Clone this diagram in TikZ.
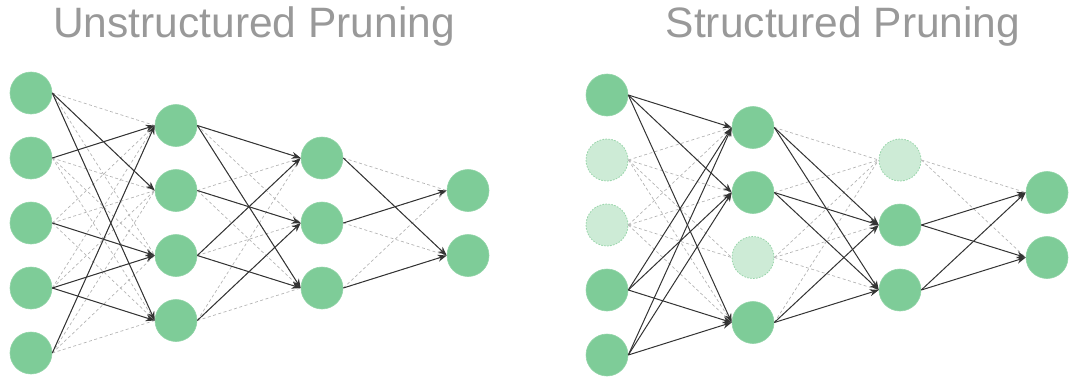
\documentclass[tikz,border=0pt]{standalone}
\usepackage{fontspec}
\setmainfont{Liberation Sans}
\usetikzlibrary{arrows.meta}
\definecolor{nodegreen}{RGB}{126, 204, 152}
\definecolor{prunedfill}{RGB}{205, 235, 214}
\definecolor{prunedline}{RGB}{150, 212, 168}
\definecolor{titlegray}{RGB}{153, 153, 153}
\definecolor{cutgray}{RGB}{180, 180, 180}

\begin{document}
\begin{tikzpicture}[x=1pt, y=-1pt,
  neuron/.style={circle, fill=nodegreen, draw=nodegreen!85!white, line width=0.6pt, minimum size=42pt, inner sep=0pt},
  pruned/.style={circle, fill=prunedfill, draw=prunedline, dash pattern=on 1.5pt off 1.5pt, line width=0.8pt, minimum size=42pt, inner sep=0pt},
  kept/.style={-{Stealth[length=9pt, width=7pt]}, line width=1pt, black!80},
  dropped/.style={line width=0.7pt, cutgray, dash pattern=on 3pt off 2.5pt},
  heading/.style={font=\fontsize{42.5}{50}\selectfont, titlegray, anchor=base}
]
  \useasboundingbox (0,0) rectangle (1070,380);

  \node[heading] (utitle) at (254,37) {Unstructured Pruning};
  \node[heading] (stitle) at (843,37) {Structured Pruning};

  % unstructured network
  \foreach \l/\x/\top/\n in {1/31/93/5, 2/176/125.5/4, 3/322/158/3, 4/468/190.5/2}
    \foreach \k in {1,...,\n}
      \node[neuron] (u-\l-\k) at (\x, {\top+(\k-1)*65}) {};

  \foreach \a/\na/\b/\nb in {1/5/2/4, 2/4/3/3, 3/3/4/2}
    \foreach \i in {1,...,\na}
      \foreach \j in {1,...,\nb}
        \draw[dropped] (u-\a-\i.east) -- (u-\b-\j.west);

  \foreach \a/\i/\b/\j in {1/1/2/2, 1/1/2/4, 1/2/2/1, 1/3/2/3, 1/4/2/3, 1/4/2/4, 1/5/2/1,
                           2/1/3/1, 2/1/3/3, 2/2/3/2, 2/3/3/1, 2/3/3/3, 2/4/3/2,
                           3/1/4/2, 3/2/4/1, 3/3/4/2}
    \draw[kept] (u-\a-\i.east) -- (u-\b-\j.west);

  % structured network
  \foreach \l/\x/\top/\kinds in {1/607/95/{neuron,pruned,pruned,neuron,neuron},
                                 2/753/127.5/{neuron,neuron,pruned,neuron},
                                 3/900/160/{pruned,neuron,neuron},
                                 4/1047/192.5/{neuron,neuron}}
    \foreach \kind [count=\k] in \kinds
      \node[\kind] (s-\l-\k) at (\x, {\top+(\k-1)*65}) {};

  \foreach \i in {2,3}
    \foreach \j in {1,...,4}
      \draw[dropped] (s-1-\i.east) -- (s-2-\j.west);
  \foreach \i in {1,2,4}
    \draw[dropped] (s-2-\i.east) -- (s-3-1.west);
  \foreach \j in {1,2,3}
    \draw[dropped] (s-2-3.east) -- (s-3-\j.west);
  \foreach \j in {1,2}
    \draw[dropped] (s-3-1.east) -- (s-4-\j.west);

  \foreach \i in {1,4,5}
    \foreach \j in {1,2,4}
      \draw[kept] (s-1-\i.east) -- (s-2-\j.west);
  \foreach \i in {1,2,4}
    \foreach \j in {2,3}
      \draw[kept] (s-2-\i.east) -- (s-3-\j.west);
  \foreach \i in {2,3}
    \foreach \j in {1,2}
      \draw[kept] (s-3-\i.east) -- (s-4-\j.west);
\end{tikzpicture}
\end{document}
